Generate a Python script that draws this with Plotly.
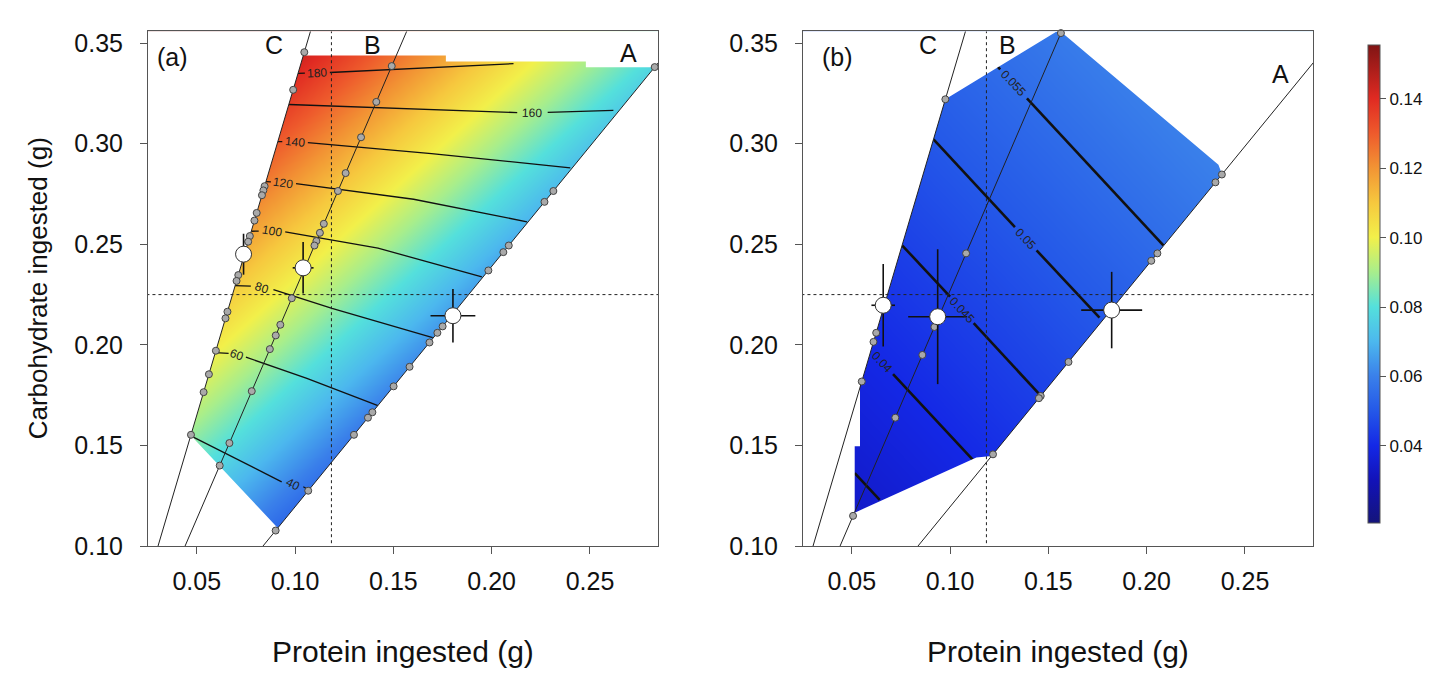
import plotly.graph_objects as go

# ---------------- data ----------------
X_RANGE = [0.0252, 0.2846]
Y_RANGE = [0.100, 0.3558]
x_ticks = [0.05, 0.10, 0.15, 0.20, 0.25]
x_tick_text = ["0.05", "0.10", "0.15", "0.20", "0.25"]
y_ticks = [0.10, 0.15, 0.20, 0.25, 0.30, 0.35]
y_tick_text = ["0.10", "0.15", "0.20", "0.25", "0.30", "0.35"]

rail_ratio = {"A": 1.195, "B": 2.27, "C": 3.30}
ref_protein = 0.1185
ref_carb = 0.225

# colour surface (a): coarse grid
a_prot = [0.03, 0.095, 0.16, 0.225, 0.29]
a_carb = [0.10, 0.165, 0.23, 0.295, 0.36]
a_z = [
    [0.0722, 0.0492, 0.0262, 0.0150, 0.0150],
    [0.0980, 0.0750, 0.0520, 0.0290, 0.0150],
    [0.1237, 0.1007, 0.0777, 0.0547, 0.0317],
    [0.1494, 0.1264, 0.1034, 0.0804, 0.0574],
    [0.1600, 0.1522, 0.1292, 0.1062, 0.0832],
]
# colour surface (b)
b_prot = [0.03, 0.09, 0.15, 0.21, 0.27]
b_carb = [0.10, 0.165, 0.23, 0.295, 0.36]
b_z = [
    [0.0308, 0.0353, 0.0399, 0.0444, 0.0489],
    [0.0355, 0.0400, 0.0446, 0.0491, 0.0536],
    [0.0402, 0.0447, 0.0492, 0.0538, 0.0583],
    [0.0448, 0.0494, 0.0539, 0.0585, 0.0630],
    [0.0495, 0.0540, 0.0586, 0.0631, 0.0676],
]

# fitted regions (clockwise, starting on rail C)
a_region_p = [0.0470, 0.1042, 0.1767, 0.1767, 0.2479, 0.2479, 0.2828, 0.0912, 0.0470]
a_region_c = [0.1550, 0.3438, 0.3438, 0.3409, 0.3409, 0.3380, 0.3380, 0.1090, 0.1550]
b_region_p = [0.0552, 0.0976, 0.1554, 0.2365, 0.2383, 0.1212, 0.1134, 0.0515, 0.0515, 0.0542, 0.0542, 0.0552]
b_region_c = [0.1820, 0.3221, 0.3565, 0.2895, 0.2848, 0.1448, 0.1440, 0.1166, 0.1496, 0.1496, 0.1820, 0.1820]

# contour lines of panel (a) (second response), gaps where labels sit
a_contours = {
    "180": ([0.1015, 0.1050, None, 0.1177, 0.1600, 0.2111], [0.3350, 0.3351, None, 0.3354, 0.3373, 0.3398]),
    "160": ([0.0969, 0.1600, 0.2130, None, 0.2285, 0.2619], [0.3195, 0.3172, 0.3155, None, 0.3156, 0.3166]),
    "140": ([0.0909, 0.0935, None, 0.1065, 0.1694, 0.2400], [0.3010, 0.3010, None, 0.3005, 0.2951, 0.2880]),
    "120": ([0.0852, 0.0877, None, 0.1005, 0.1603, 0.2180], [0.2812, 0.2810, None, 0.2802, 0.2724, 0.2612]),
    "100": ([0.0777, 0.0815, None, 0.0950, 0.1422, 0.1950], [0.2565, 0.2566, None, 0.2562, 0.2481, 0.2338]),
    "80": ([0.0694, 0.0775, None, 0.0890, 0.1188, 0.1700], [0.2295, 0.2292, None, 0.2275, 0.2181, 0.2036]),
    "60": ([0.0594, 0.0662, None, 0.0750, 0.1060, 0.1425], [0.1962, 0.1958, None, 0.1939, 0.1834, 0.1697]),
    "40": ([0.0470, 0.0932, None, 0.1042, 0.1069], [0.1548, 0.1319, None, 0.1295, 0.1280]),
}
a_label_p = {"180": 0.1112, "160": 0.2207, "140": 0.1000, "120": 0.0940, "100": 0.0882, "80": 0.0832, "60": 0.0706, "40": 0.0987}
a_label_c = {"180": 0.3352, "160": 0.3155, "140": 0.3008, "120": 0.2806, "100": 0.2565, "80": 0.2284, "60": 0.1950, "40": 0.1307}
a_label_angle = {"180": -3, "160": 2, "140": 5, "120": 8, "100": 10, "80": 18, "60": 20, "40": 27}

# contour lines of panel (b)
b_contours = {
    "0.055": ([0.1240, 0.1255, None, 0.1391, 0.2085], [0.3385, 0.3370, None, 0.3225, 0.2495]),
    "0.05": ([0.0916, 0.1330, None, 0.1440, 0.1760], [0.3022, 0.2585, None, 0.2470, 0.2135]),
    "0.045": ([0.0756, 0.1000, None, 0.1120, 0.1462], [0.2495, 0.2240, None, 0.2108, 0.1746]),
    "0.04": ([0.0710, 0.1115], [0.1855, 0.1430]),
    "0.035": ([0.0515, 0.0642], [0.1362, 0.1230]),
}
b_label_p = {"0.055": 0.1320, "0.05": 0.1385, "0.045": 0.1060, "0.04": 0.0652}
b_label_c = {"0.055": 0.3300, "0.05": 0.2528, "0.045": 0.2174, "0.04": 0.1913}

# individual animals on each rail (carbohydrate eaten)
a_dots = {
    "C": [0.3455, 0.3268, 0.2789, 0.2768, 0.2744, 0.2656, 0.2618, 0.2541, 0.2513, 0.2347, 0.2318,
          0.2165, 0.2132, 0.1971, 0.1854, 0.1765, 0.1553],
    "B": [0.3386, 0.3208, 0.3032, 0.2854, 0.2765, 0.2602, 0.2557, 0.2516, 0.2494, 0.2232, 0.2100,
          0.2047, 0.1979, 0.1770, 0.1512, 0.1400],
    "A": [0.3381, 0.2765, 0.2711, 0.2494, 0.2461, 0.2370, 0.2092, 0.2060, 0.2012, 0.1891, 0.1794,
          0.1665, 0.1638, 0.1553, 0.1275, 0.1077],
}
b_dots = {
    "C": [0.3221, 0.2060, 0.2015, 0.1818],
    "B": [0.3550, 0.2455, 0.2089, 0.1950, 0.1638, 0.1150],
    "A": [0.2847, 0.2808, 0.2455, 0.2418, 0.1915, 0.1746, 0.1735, 0.1456],
}

# treatment means +/- SE
a_mean_p = [0.0738, 0.1041, 0.1803]
a_mean_c = [0.2451, 0.2383, 0.2145]
a_se_p = [0.0020, 0.0053, 0.0114]
a_se_c = [0.0102, 0.0128, 0.0133]
b_mean_p = [0.0660, 0.0937, 0.1822]
b_mean_c = [0.2197, 0.2140, 0.2173]
b_se_p = [0.0060, 0.0150, 0.0155]
b_se_c = [0.0205, 0.0335, 0.0190]

# colour bar
c_min, c_max = 0.0177, 0.1554
cb_vals = [0.0177, 0.030, 0.040, 0.050, 0.060, 0.070, 0.080, 0.090, 0.100, 0.110, 0.120, 0.130, 0.140, 0.1554]
cb_cols = ["#14147a", "#1212b8", "#1428e6", "#2458e8", "#3a80ea", "#4cb8ee", "#54e0dc", "#a8ee8c",
           "#f2f04a", "#f6c83e", "#f29434", "#ee5a2c", "#e02a22", "#801414"]
cb_ticks = [0.04, 0.06, 0.08, 0.10, 0.12, 0.14]
cb_tick_text = ["0.04", "0.06", "0.08", "0.10", "0.12", "0.14"]

# ---------------- figure ----------------
W, H = 1438, 678
FONT = "Liberation Sans, Arial, Helvetica, sans-serif"
fig = go.Figure()

colorscale = [[(v - c_min) / (c_max - c_min), c] for v, c in zip(cb_vals, cb_cols)]


def add_panel(xa, ya, prot, carb, z, region_p, region_c, contours, lw, dots, mp, mc, sp, sc):
    fig.add_trace(go.Heatmap(x=prot, y=carb, z=z, zsmooth="best", coloraxis="coloraxis",
                             xaxis=xa, yaxis=ya, hoverinfo="skip"))
    for name, (px, pc) in contours.items():
        fig.add_trace(go.Scatter(x=px, y=pc, mode="lines", line=dict(color="#111", width=lw),
                                 xaxis=xa, yaxis=ya, hoverinfo="skip", connectgaps=False))
    # white mask outside the fitted region (keyhole polygon, slit along rail C)
    y0, y1, xl, xr = 0.08, 0.38, 0.0, 0.31
    xs = y0 / rail_ratio["C"]
    mx = [xs, xr, xr, xl, xl, xs] + region_p + [xs]
    my = [y0, y0, y1, y1, y0, y0] + region_c + [y0]
    fig.add_trace(go.Scatter(x=mx, y=my, mode="lines", fill="toself", fillcolor="white",
                             line=dict(width=0, color="white"), xaxis=xa, yaxis=ya, hoverinfo="skip"))
    # reference dashed lines
    fig.add_trace(go.Scatter(x=[ref_protein, ref_protein], y=[0.0, 0.4], mode="lines",
                             line=dict(color="#222", width=1, dash="3px,3px"), xaxis=xa, yaxis=ya, hoverinfo="skip"))
    fig.add_trace(go.Scatter(x=[0.0, 0.3], y=[ref_carb, ref_carb], mode="lines",
                             line=dict(color="#222", width=1, dash="3px,3px"), xaxis=xa, yaxis=ya, hoverinfo="skip"))
    # nutritional rails
    for k, r in rail_ratio.items():
        fig.add_trace(go.Scatter(x=[0.0, 0.4], y=[0.0, 0.4 * r], mode="lines",
                                 line=dict(color="#222", width=1), xaxis=xa, yaxis=ya, hoverinfo="skip"))
    # individuals
    for k, cs in dots.items():
        fig.add_trace(go.Scatter(x=[c / rail_ratio[k] for c in cs], y=cs, mode="markers",
                                 marker=dict(size=7, color="#a9a9a9", line=dict(color="#444", width=1)),
                                 xaxis=xa, yaxis=ya, hoverinfo="skip", cliponaxis=False))
    # means
    fig.add_trace(go.Scatter(x=mp, y=mc, mode="markers",
                             marker=dict(size=16, color="white", line=dict(color="#333", width=1)),
                             error_x=dict(type="data", array=sp, color="#111", thickness=1.6, width=0),
                             error_y=dict(type="data", array=sc, color="#111", thickness=1.6, width=0),
                             xaxis=xa, yaxis=ya, hoverinfo="skip"))


add_panel("x", "y", a_prot, a_carb, a_z, a_region_p, a_region_c, a_contours, 1.3,
          a_dots, a_mean_p, a_mean_c, a_se_p, a_se_c)
add_panel("x2", "y2", b_prot, b_carb, b_z, b_region_p, b_region_c, b_contours, 2.6,
          b_dots, b_mean_p, b_mean_c, b_se_p, b_se_c)

ann = []
for k in a_label_p:
    ann.append(dict(x=a_label_p[k], y=a_label_c[k], xref="x", yref="y", text=k, showarrow=False,
                    textangle=a_label_angle[k], font=dict(size=12, color="#222", family=FONT)))
for k in b_label_p:
    ann.append(dict(x=b_label_p[k], y=b_label_c[k], xref="x2", yref="y2", text=k, showarrow=False,
                    textangle=47, font=dict(size=12, color="#222", family=FONT)))

panel_text = [("(a)", 0.0378, 0.3432, "x", "y"), ("C", 0.0892, 0.3490, "x", "y"), ("B", 0.1395, 0.3490, "x", "y"),
              ("A", 0.2697, 0.3450, "x", "y"), ("(b)", 0.0429, 0.3432, "x2", "y2"), ("C", 0.0887, 0.3490, "x2", "y2"),
              ("B", 0.1294, 0.3490, "x2", "y2"), ("A", 0.2682, 0.3345, "x2", "y2")]
for t, x, y, xr_, yr_ in panel_text:
    ann.append(dict(x=x, y=y, xref=xr_, yref=yr_, text=t, showarrow=False, xanchor="center", yanchor="middle",
                    font=dict(size=25, color="#111", family=FONT)))

xtitle_font = dict(size=30, color="#111", family=FONT)
ytitle_font = dict(size=26, color="#111", family=FONT)
ann.append(dict(x=395 / W, y=1 - 657 / H, xref="paper", yref="paper", text="Protein ingested (g)",
                showarrow=False, xanchor="center", yanchor="middle", font=xtitle_font))
ann.append(dict(x=1050 / W, y=1 - 657 / H, xref="paper", yref="paper", text="Protein ingested (g)",
                showarrow=False, xanchor="center", yanchor="middle", font=xtitle_font))
ann.append(dict(x=30 / W, y=1 - 285 / H, xref="paper", yref="paper", text="Carbohydrate ingested (g)",
                showarrow=False, textangle=-90, xanchor="center", yanchor="middle", font=ytitle_font))

ydom = [1 - 549 / H, 1 - 22 / H]
axis_common = dict(showline=True, mirror=True, linecolor="#555", linewidth=1, showgrid=False, zeroline=False,
                   ticks="outside", ticklen=7, tickcolor="#555", tickfont=dict(size=25, color="#111", family=FONT))

fig.update_layout(
    width=W, height=H, margin=dict(l=0, r=0, t=0, b=0), plot_bgcolor="white", paper_bgcolor="white",
    showlegend=False,
    xaxis=dict(domain=[140 / W, 650 / W], range=X_RANGE, tickvals=x_ticks, ticktext=x_tick_text, anchor="y",
               ticklabelstandoff=6, **axis_common),
    yaxis=dict(domain=ydom, range=Y_RANGE, tickvals=y_ticks, ticktext=y_tick_text, anchor="x",
               ticklabelstandoff=12, **axis_common),
    xaxis2=dict(domain=[795 / W, 1305 / W], range=X_RANGE, tickvals=x_ticks, ticktext=x_tick_text, anchor="y2",
                ticklabelstandoff=6, **axis_common),
    yaxis2=dict(domain=ydom, range=Y_RANGE, tickvals=y_ticks, ticktext=y_tick_text, anchor="x2",
                ticklabelstandoff=12, **axis_common),
    coloraxis=dict(colorscale=colorscale, cmin=c_min, cmax=c_max,
                   colorbar=dict(thickness=12, len=490 / H, lenmode="fraction", y=1 - 281 / H, yanchor="middle",
                                 x=1360 / W, xanchor="left", xpad=0, ypad=0, outlinewidth=1, outlinecolor="#555",
                                 ticks="outside", ticklen=6, tickcolor="#555", tickvals=cb_ticks, ticktext=cb_tick_text,
                                 tickfont=dict(size=17, color="#111", family=FONT))),
    annotations=ann,
)

fig.write_html("out.html")
